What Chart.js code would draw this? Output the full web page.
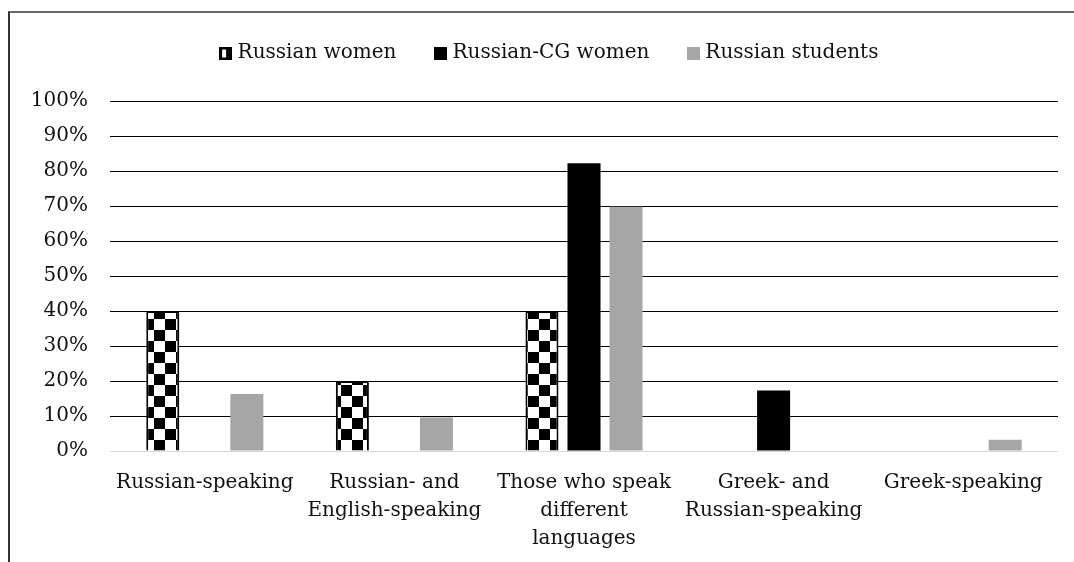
<!DOCTYPE html>
<html lang="en">
<head>
    <meta charset="UTF-8">
    <title>Languages spoken</title>
    <script src="https://cdn.jsdelivr.net/npm/chart.js"></script>
    <style>
        body { margin: 0; background: #fff; }
        .moldura {
            position: absolute; left: 8px; top: 11px; right: -5px; bottom: -5px;
            border-top: 2px solid #666; border-left: 2px solid #333;
        }
        .grafico { position: absolute; left: 0; top: 0; width: 1074px; height: 562px; }
    </style>
</head>
<body>
    <div class="moldura"></div>
    <div class="grafico"><canvas id="myChart"></canvas></div>

<script>
    // categorias e valores (%)
    const categorias = [
        ['Russian-speaking'],
        ['Russian- and', 'English-speaking'],
        ['Those who speak', 'different', 'languages'],
        ['Greek- and', 'Russian-speaking'],
        ['Greek-speaking']
    ];
    const russianWomen = [40, 20, 40, 0, 0];
    const russianCGWomen = [0, 0, 82.2, 17.3, 0];
    const russianStudents = [16.3, 9.6, 69.8, 0, 3.2];
    const ticksY = [0, 10, 20, 30, 40, 50, 60, 70, 80, 90, 100];

    const fonte = '"DejaVu Serif", serif';

    // padrão xadrez das barras "Russian women"
    function criarXadrez() {
        const c = document.createElement('canvas');
        c.width = 22; c.height = 22;
        const g = c.getContext('2d');
        g.fillStyle = '#fff';
        g.fillRect(0, 0, 22, 22);
        g.fillStyle = '#000';
        g.fillRect(0, 0, 11, 11);
        g.fillRect(11, 11, 11, 11);
        return c;
    }

    // ícone da legenda do xadrez
    function criarIcone() {
        const c = document.createElement('canvas');
        c.width = 13; c.height = 13;
        const g = c.getContext('2d');
        g.fillStyle = '#000';
        g.fillRect(0, 0, 13, 13);
        g.fillStyle = '#fff';
        g.fillRect(3, 3, 4, 8);
        return c;
    }

    function criarQuadrado(cor) {
        const c = document.createElement('canvas');
        c.width = 13; c.height = 13;
        const g = c.getContext('2d');
        g.fillStyle = cor;
        g.fillRect(0, 0, 13, 13);
        return c;
    }

    const ctx = document.getElementById('myChart').getContext('2d');
    const xadrez = ctx.createPattern(criarXadrez(), 'repeat');
    const icones = [criarIcone(), criarQuadrado('#000'), criarQuadrado('#a6a6a6')];

    // espaço extra abaixo da legenda e deslocamento para a direita
    const ajusteLegenda = {
        id: 'ajusteLegenda',
        beforeInit(chart) {
            const fitOriginal = chart.legend.fit;
            chart.legend.fit = function () {
                fitOriginal.bind(chart.legend)();
                this.height += 28;
            };
        },
        afterLayout(chart) {
            chart.legend.left += 22;
            chart.legend.right += 22;
        }
    };

    let dados = {
        labels: categorias,
        datasets: [
            {
                label: 'Russian women',
                data: russianWomen,
                backgroundColor: xadrez,
                borderColor: '#000',
                borderWidth: 2,
                pointStyle: icones[0]
            },
            {
                label: 'Russian-CG women',
                data: russianCGWomen,
                backgroundColor: '#000',
                borderColor: '#000',
                borderWidth: 0,
                pointStyle: icones[1]
            },
            {
                label: 'Russian students',
                data: russianStudents,
                backgroundColor: '#a6a6a6',
                borderColor: '#a6a6a6',
                borderWidth: 0,
                pointStyle: icones[2]
            }
        ]
    };

    let options = {
        responsive: false,
        animation: false,
        layout: { padding: { left: 0, right: 16, top: 1, bottom: 0 } },
        datasets: {
            bar: { categoryPercentage: 0.665, barPercentage: 0.786 }
        },
        scales: {
            y: {
                min: 0,
                max: 100,
                afterFit: (s) => { s.width = 110; },
                afterBuildTicks: (s) => { s.ticks = ticksY.map(v => ({ value: v })); },
                border: { display: false },
                grid: {
                    color: (c) => c.tick && c.tick.value === 0 ? '#d9d9d9' : '#000',
                    lineWidth: 1,
                    drawTicks: false
                },
                ticks: {
                    padding: 22,
                    color: '#111',
                    font: { family: fonte, size: 20 },
                    callback: (v) => v + '%'
                }
            },
            x: {
                afterFit: (s) => { s.height = 111; },
                border: { display: false },
                grid: { display: false },
                ticks: {
                    padding: 10,
                    maxRotation: 0,
                    autoSkip: false,
                    color: '#111',
                    font: { family: fonte, size: 20, lineHeight: 1.4 }
                }
            }
        },
        plugins: {
            tooltip: { enabled: false },
            legend: {
                position: 'top',
                labels: {
                    usePointStyle: true,
                    boxWidth: 4,
                    boxHeight: 13,
                    padding: 42,
                    color: '#111',
                    font: { family: fonte, size: 20 }
                }
            }
        }
    };

    const canvas = document.getElementById('myChart');
    canvas.width = 1074;
    canvas.height = 562;

    let myChart = new Chart(canvas, {
        type: 'bar',
        data: dados,
        options: options,
        plugins: [ajusteLegenda]
    });
</script>
</body>
</html>
